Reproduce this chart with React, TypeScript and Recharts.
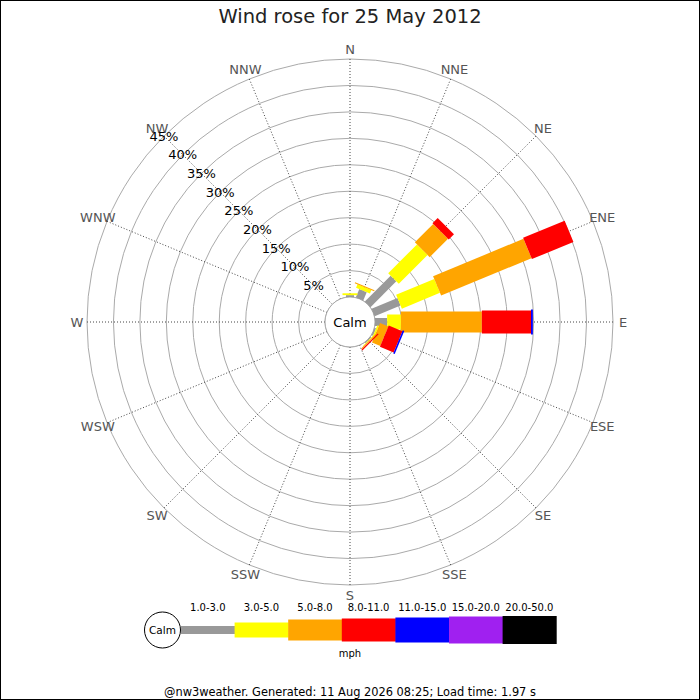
import React from 'react';
import {
  RadialBarChart,
  RadialBar,
  PolarGrid,
  PolarAngleAxis,
  PolarRadiusAxis,
  Legend,
  Customized,
} from 'recharts';

// Wind rose, 25 May 2012 — share of the day (%) per direction and speed bin
const directions = ['N', 'NNE', 'NE', 'ENE', 'E', 'ESE', 'SE', 'SSE', 'S', 'SSW', 'SW', 'WSW', 'W', 'WNW', 'NW', 'NNW'];
const speedBins = ['1.0-3.0', '3.0-5.0', '5.0-8.0', '8.0-11.0', '11.0-15.0', '15.0-20.0', '20.0-50.0'];
const binColors = ['#999999', '#ffff00', '#ffa500', '#ff0000', '#0000ff', '#a020f0', '#000000'];
const binWidths = [8, 15, 21, 23, 25, 27, 28];

const bin1to3 = [0.35, 1.7, 6.9, 5.3, 2.3, 0.3, 0.2, 0, 0, 0, 0, 0, 0, 0, 0, 0];
const bin3to5 = [0.35, 0.7, 7.7, 7.8, 2.6, 0.3, 0.1, 0, 0, 0, 0, 0, 0, 0, 0, 0];
const bin5to8 = [0, 0.2, 4.9, 18.5, 15.3, 1.7, 0.2, 0, 0, 0, 0, 0, 0, 0, 0, 0];
const bin8to11 = [0, 0, 1.4, 8.5, 9.3, 2.8, 0.25, 0, 0, 0, 0, 0, 0, 0, 0, 0];
const bin11to15 = [0, 0, 0, 0, 0.35, 0.3, 0, 0, 0, 0, 0, 0, 0, 0, 0, 0];
const bin15to20 = [0, 0, 0, 0, 0, 0, 0, 0, 0, 0, 0, 0, 0, 0, 0, 0];
const bin20to50 = [0, 0, 0, 0, 0, 0, 0, 0, 0, 0, 0, 0, 0, 0, 0, 0];
const binSeries = [bin1to3, bin3to5, bin5to8, bin8to11, bin11to15, bin15to20, bin20to50];

const percentTicks = [0, 5, 10, 15, 20, 25, 30, 35, 40, 45];

const data = directions.map((dir, i) => {
  const row: Record<string, number | string> = { dir };
  binSeries.forEach((s, k) => {
    row['b' + k] = s[i];
  });
  return row;
});

const FONT = '"DejaVu Sans", Verdana, sans-serif';
const CX = 350;
const CY = 322;
const CALM_R = 25;
// the band scale puts each sector half a band away from its compass tick
const HALF_BAND = 180 / directions.length;

// straight-sided bar along the direction of the sector
const RoseBar = (props: any) => {
  const { cx, cy, innerRadius, outerRadius, startAngle, endAngle, fill, barWidth } = props;
  if (!(outerRadius > innerRadius)) return <g />;
  const mid = (((startAngle + endAngle) / 2 - HALF_BAND) * Math.PI) / 180;
  const dx = Math.cos(mid);
  const dy = -Math.sin(mid);
  const nx = -dy;
  const ny = dx;
  const h = barWidth / 2;
  const pts = [
    [innerRadius, -h],
    [outerRadius, -h],
    [outerRadius, h],
    [innerRadius, h],
  ]
    .map(([r, o]) => `${cx + r * dx + o * nx},${cy + r * dy + o * ny}`)
    .join(' ');
  return <polygon points={pts} fill={fill} />;
};

const CompassTick = (props: any) => {
  const { x, y, payload } = props;
  return (
    <text x={x} y={y} textAnchor="middle" dominantBaseline="central" fill="#555" fontSize={13} fontFamily={FONT}>
      {payload.value}
    </text>
  );
};

const PercentTick = (props: any) => {
  const { x, y, payload } = props;
  if (!payload.value) return <g />;
  return (
    <text x={x} y={y} textAnchor="middle" dominantBaseline="central" fill="#000" fontSize={13} fontFamily={FONT}>
      {payload.value}%
    </text>
  );
};

const CalmDisc = () => (
  <g>
    <circle cx={CX} cy={CY} r={CALM_R} fill="#fff" stroke="#aaa" />
    <text x={CX} y={CY} textAnchor="middle" dominantBaseline="central" fontSize={13} fontFamily={FONT} fill="#000">
      Calm
    </text>
  </g>
);

const SpeedLegend = () => {
  const x0 = 181;
  const seg = 53.6;
  const mid = 40;
  return (
    <svg width={700} height={80} style={{ display: 'block' }}>
      <circle cx={162.5} cy={mid} r={18} fill="#fff" stroke="#000" />
      <text x={162.5} y={mid} textAnchor="middle" dominantBaseline="central" fontSize={10.5} fontFamily={FONT}>
        Calm
      </text>
      {speedBins.map((label, k) => (
        <g key={label}>
          <rect x={x0 + k * seg} y={mid - binWidths[k] / 2} width={seg + 0.5} height={binWidths[k]} fill={binColors[k]} />
          <text x={x0 + k * seg + seg / 2} y={17} textAnchor="middle" dominantBaseline="central" fontSize={10} fontFamily={FONT} fill="#000">
            {label}
          </text>
        </g>
      ))}
      <text x={350} y={63} textAnchor="middle" dominantBaseline="central" fontSize={10} fontFamily={FONT} fill="#000">
        mph
      </text>
    </svg>
  );
};

export default function App() {
  return (
    <div style={{ position: 'absolute', left: 0, top: 0, width: 700, height: 700, background: '#fff', fontFamily: FONT }}>
      <div
        style={{
          position: 'absolute',
          left: 0,
          top: 5,
          width: 700,
          textAlign: 'center',
          fontSize: 19.5,
          lineHeight: '24px',
          color: '#222',
        }}
      >
        Wind rose for 25 May 2012
      </div>
      <div style={{ position: 'absolute', left: 0, top: 0 }}>
        <RadialBarChart
          width={700}
          height={700}
          data={data}
          layout="centric"
          cx={CX}
          cy={CY}
          innerRadius={CALM_R}
          outerRadius={263}
          startAngle={90}
          endAngle={-270}
          margin={{ top: 0, right: 0, bottom: 0, left: 0 }}
        >
          <PolarGrid gridType="circle" radialLines={false} stroke="#aaa" />
          <PolarGrid gridType="circle" polarRadius={[]} stroke="#444" strokeDasharray="1 2" />
          <PolarAngleAxis
            type="category"
            dataKey="dir"
            axisLine={false}
            tickLine={false}
            tickSize={10}
            tick={<CompassTick />}
          />
          <PolarRadiusAxis
            type="number"
            domain={[0, 45]}
            ticks={percentTicks}
            angle={135}
            axisLine={false}
            tickLine={false}
            tick={<PercentTick />}
          />
          {speedBins.map((label, k) => (
            <RadialBar
              key={label}
              dataKey={'b' + k}
              name={label}
              stackId="wind"
              fill={binColors[k]}
              isAnimationActive={false}
              shape={(p: any) => <RoseBar {...p} barWidth={binWidths[k]} />}
            />
          ))}
          <Customized component={<CalmDisc />} />
          <Legend content={<SpeedLegend />} wrapperStyle={{ left: 0, top: 590, width: 700, height: 80 }} />
        </RadialBarChart>
      </div>
      <div
        style={{
          position: 'absolute',
          left: 0,
          top: 684,
          width: 700,
          textAlign: 'center',
          fontSize: 11.4,
          lineHeight: '16px',
          color: '#000',
        }}
      >
        @nw3weather. Generated: 11 Aug 2026 08:25; Load time: 1.97 s
      </div>
      <div
        style={{
          position: 'absolute',
          left: 0,
          top: 0,
          width: 700,
          height: 700,
          boxSizing: 'border-box',
          border: '1px solid #000',
          pointerEvents: 'none',
        }}
      />
    </div>
  );
}
